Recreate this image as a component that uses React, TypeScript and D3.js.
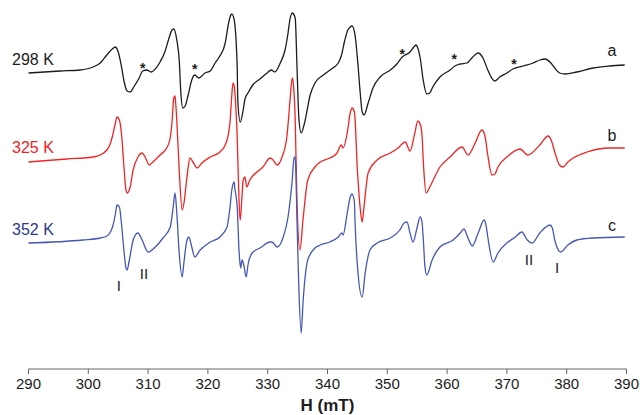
import React from 'react';
import * as d3 from 'd3';

// EPR spectra, field H (mT) vs. derivative intensity (arb. units, relative to each trace baseline)
const spectrumA: [number, number][] = [
  [290, 0], [295.3, 2], [298.6, 3], [300.8, 6], [302.0, 10], [303.1, 18], [304.0, 24], [304.5, 26],
  [305.0, 21], [305.5, 8], [306.0, -9], [306.5, -18], [307.0, -19], [307.6, -14], [308.5, -5],
  [309.1, 2], [309.8, 3], [310.5, 1], [311.2, 4], [312.0, 11], [312.8, 21], [313.5, 35], [314.0, 43],
  [314.3, 44], [314.8, 33], [315.2, 13], [315.5, -22], [315.8, -35], [316.2, -33], [316.7, -22],
  [317.3, -7], [317.8, -2], [318.5, -5], [319.5, 0], [320.4, 2], [321.2, 10], [322.0, 17], [322.9, 30],
  [323.4, 48], [323.7, 56], [324.0, 59], [324.4, 53], [324.9, 6], [325.0, -27], [325.4, -49],
  [325.9, -37], [326.2, -26], [326.7, -20], [327.5, -12], [328.7, -6], [329.9, 0], [330.6, 3],
  [331.2, 1], [332.1, 10], [332.9, 23], [333.4, 40], [333.7, 53], [334.1, 60], [334.6, 55], [334.9, 6],
  [335.2, -44], [335.6, -60], [336.2, -49], [337.1, -22], [337.9, -10], [339.3, -2], [340.9, 5],
  [341.8, 10], [342.3, 17], [342.9, 33], [343.4, 43], [343.8, 46], [344.1, 47], [344.6, 38], [345.1, 8],
  [345.5, -22], [345.8, -39], [346.1, -42], [346.8, -30], [347.6, -15], [348.8, -4], [350.5, 3],
  [351.6, 9], [352.5, 16], [353.0, 18], [353.8, 21], [354.3, 25], [354.8, 28], [355.1, 25], [355.5, 15],
  [356.0, -7], [356.6, -21], [357.1, -20], [357.6, -14], [358.8, -4], [360.5, 3], [361.3, 7],
  [362.2, 9], [363.3, 10], [364.3, 16], [365.2, 20], [366.0, 15], [366.8, 3], [367.7, -7], [368.0, -8],
  [368.8, -4], [370.0, 0], [371.0, 4], [372.7, 7], [374.4, 10], [375.5, 13], [376.4, 14], [377.2, 11],
  [378.0, 5], [378.8, 0], [379.7, -1], [381.7, 1], [384.4, 5], [387.2, 7], [389.7, 8],
];

const spectrumB: [number, number][] = [
  [290, -1], [296.4, 2], [300.8, 4], [302.0, 6], [303.1, 11], [303.6, 16], [304.0, 24], [304.5, 37],
  [304.8, 44], [305.2, 41], [305.6, 24], [306.0, -9], [306.3, -29], [306.5, -32], [307.0, -26],
  [307.5, -9], [308.3, 4], [309.0, 8], [309.5, 4], [310.2, -4], [310.8, -1], [312.0, 6], [313.2, 14],
  [313.7, 23], [314.0, 39], [314.3, 63], [314.5, 65], [314.6, 59], [314.8, 41], [315.2, -9],
  [315.7, -49], [316.0, -42], [316.5, -16], [317.0, 3], [317.5, -1], [318.2, -7], [319.0, -2],
  [320.4, 4], [322.0, 9], [322.9, 16], [323.4, 26], [323.7, 39], [324.0, 66], [324.2, 78], [324.4, 75],
  [324.7, 51], [324.9, 24], [325.2, -39], [325.4, -59], [325.7, -36], [325.9, -19], [326.2, -16],
  [326.5, -26], [327.0, -19], [328.2, -11], [329.2, -6], [330.4, 3], [330.9, 1], [331.6, -4],
  [332.4, 4], [333.2, 24], [333.7, 58], [334.1, 83], [334.2, 81], [334.6, 41], [334.9, -42],
  [335.4, -89], [335.9, -59], [336.7, -19], [337.9, -6], [338.8, -1], [340.4, 3], [341.6, 8],
  [342.3, 16], [342.6, 13], [343.3, 28], [343.8, 48], [344.1, 53], [344.5, 49], [345.0, -9],
  [345.5, -49], [345.8, -61], [346.1, -46], [346.8, -12], [348.3, 1], [350.5, 8], [351.8, 13],
  [353.0, 19], [353.8, 10], [354.6, 28], [355.1, 40], [355.5, 37], [355.8, 26], [356.1, -9],
  [356.5, -32], [357.1, -26], [358.8, -6], [360.5, 4], [362.5, 14], [363.5, 6], [364.7, 18],
  [365.8, 31], [366.3, 26], [366.8, 6], [367.5, -14], [368.0, -13], [368.5, -6], [370.0, 4],
  [372.2, 12], [373.5, 6], [375.5, 16], [376.9, 25], [377.4, 21], [378.0, 9], [378.8, -4], [379.4, -6],
  [380.2, -1], [381.1, 3], [383.4, 9], [387.2, 13], [389.7, 13],
];

const spectrumC: [number, number][] = [
  [290, 0], [299.1, 3], [302.0, 5], [303.1, 7], [303.6, 10], [304.1, 17], [304.5, 28], [304.8, 38],
  [305.2, 36], [305.6, 16], [306.0, -10], [306.3, -25], [306.5, -27], [306.8, -19], [307.5, 3],
  [308.0, 9], [308.3, 10], [309.0, 3], [310.0, -9], [311.2, -4], [312.5, 5], [313.7, 16], [314.2, 36],
  [314.5, 50], [314.8, 30], [315.2, -10], [315.7, -34], [316.0, -19], [316.5, 3], [316.8, 6],
  [317.3, -4], [317.8, -14], [318.7, -7], [320.4, 1], [322.0, 6], [323.2, 16], [323.7, 36], [324.0, 53],
  [324.4, 61], [324.5, 55], [324.9, 36], [325.2, -7], [325.4, -22], [325.5, -25], [325.7, -17],
  [326.0, -22], [326.4, -34], [326.7, -22], [327.4, -10], [328.7, -5], [330.4, 1], [330.7, 1],
  [331.6, -4], [332.6, 6], [333.4, 26], [334.1, 63], [334.4, 85], [334.6, 86], [334.7, 73], [334.9, 23],
  [335.2, -44], [335.6, -90], [335.9, -60], [336.7, -17], [337.9, -5], [338.8, -2], [340.4, 1],
  [341.8, 6], [342.4, 10], [342.6, 8], [343.3, 30], [343.8, 46], [344.1, 49], [344.5, 41], [344.6, 23],
  [345.1, -30], [345.8, -54], [346.3, -30], [347.1, -7], [348.3, 0], [350.5, 5], [352.1, 13],
  [352.8, 20], [353.3, 21], [353.8, 10], [354.3, 1], [355.0, 16], [355.5, 26], [355.8, 21], [356.0, 6],
  [356.3, -24], [356.6, -32], [357.5, -17], [358.8, -4], [361.0, 3], [362.2, 10], [362.8, 14],
  [363.5, 5], [364.2, -3], [365.2, 10], [366.2, 23], [366.5, 18], [366.8, 6], [367.7, -19],
  [368.5, -10], [370.0, 0], [371.4, 6], [372.5, 11], [373.4, 3], [374.2, 0], [375.5, 10], [377.2, 18],
  [377.6, 15], [378.0, 3], [379.0, -9], [380.2, -2], [381.7, 3], [384.4, 5], [389.7, 6],
];

const temps = ['298 K', '325 K', '352 K'];
const letters = ['a', 'b', 'c'];
const offsets = [296, 208, 126];
const lineColors = ['#1c1c1c', '#f02424', '#4457b4'];
const labelColors = ['#1c1c1c', '#f02424', '#2c3a8c'];
const spectra = [spectrumA, spectrumB, spectrumC];

// asterisks on trace a, and site markers I / II on trace c
const starH = [309.1, 317.8, 352.5, 361.2, 371.2];
const starY = [7, 6, 21, 16, 11];
const siteText = ['I', 'II', 'II', 'I'];
const siteH = [305.1, 309.3, 373.7, 378.4];
const siteY = [-42, -30, -16, -24];

const xTicks = [290, 300, 310, 320, 330, 340, 350, 360, 370, 380, 390];

const width = 640;
const height = 415;
const axisY = 369;

export default function App() {
  const x = d3.scaleLinear().domain([290, 390]).range([28.5, 626.5]);
  const y = d3.scaleLinear().domain([0, axisY]).range([axisY, 0]);

  const paths = spectra.map((s, i) =>
    d3.line<[number, number]>()
      .x(d => x(d[0]))
      .y(d => y(offsets[i] + d[1]))
      .curve(d3.curveMonotoneX)(s) || ''
  );

  const font = 'Liberation Sans, Arial, sans-serif';

  return (
    <svg width={width} height={height} style={{ position: 'absolute', left: 0, top: 0, background: '#fff' }} fontFamily={font}>
      {/* traces */}
      {paths.map((p, i) => (
        <path key={i} d={p} fill="none" stroke={lineColors[i]} strokeWidth={1.3} strokeLinejoin="round" />
      ))}
      {/* temperature labels */}
      {temps.map((t, i) => (
        <text key={t} x={12} y={y(offsets[i]) - 8} fontSize={16} fill={labelColors[i]}>{t}</text>
      ))}
      {/* trace letters */}
      {letters.map((l, i) => (
        <text key={l} x={612} y={y(offsets[i]) + (i === 0 ? -17 : i === 1 ? -20 : -12)} fontSize={16} fill="#1c1c1c" textAnchor="middle">{l}</text>
      ))}
      {/* asterisks */}
      {starH.map((h, i) => (
        <text key={i} x={x(h)} y={y(offsets[0] + starY[i]) + 7} fontSize={14} fontWeight="bold" textAnchor="middle" fill="#1c1c1c">*</text>
      ))}
      {/* site markers */}
      {siteText.map((t, i) => (
        <text key={i} x={x(siteH[i])} y={y(offsets[2] + siteY[i]) + 6} fontSize={15} textAnchor="middle" fill="#1c1c1c">{t}</text>
      ))}
      {/* x axis */}
      <line x1={x(290)} x2={x(390)} y1={axisY} y2={axisY} stroke="#666" strokeWidth={1} />
      {xTicks.map(t => (
        <g key={t}>
          <line x1={x(t)} x2={x(t)} y1={axisY} y2={axisY + 5} stroke="#666" strokeWidth={1} />
          <text x={x(t)} y={axisY + 20} fontSize={15} textAnchor="middle" fill="#1c1c1c">{t}</text>
        </g>
      ))}
      <text x={x(340)} y={axisY + 42} fontSize={17} fontWeight="bold" textAnchor="middle" fill="#1c1c1c">H (mT)</text>
    </svg>
  );
}
